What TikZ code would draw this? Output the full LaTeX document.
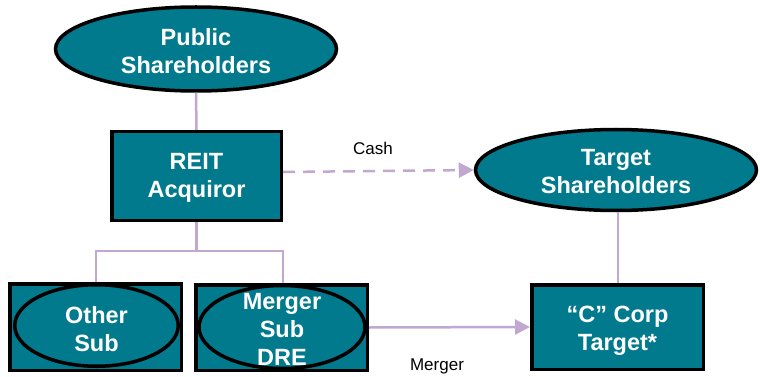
\documentclass[tikz,border=0pt]{standalone}
\usepackage{fontspec}
\setmainfont{Liberation Sans}
\usetikzlibrary{shapes.geometric,arrows.meta}
\definecolor{teal1}{HTML}{017A8D}
\definecolor{lav}{HTML}{C0A8D0}
\tikzset{
  lbl/.style={text=white,font=\fontsize{23.5}{28}\selectfont\bfseries,align=center},
  ell/.style={ellipse,draw=black,line width=3.5pt,fill=teal1,inner sep=0pt},
  box/.style={rectangle,draw=black,line width=3.5pt,fill=teal1,inner sep=0pt},
  conn/.style={draw=lav,line width=2.5pt},
  tip/.style={-{Triangle[length=15pt,width=15pt]}},
  small/.style={font=\fontsize{17}{20}\selectfont,text=black}
}
\begin{document}
\begin{tikzpicture}[x=1pt,y=-1pt]
\useasboundingbox (0,0) rectangle (760,377);
% nodes
\node[ell,minimum width=281pt,minimum height=84pt] (pub) at (196,49) {};
\node[lbl] (pubT) at (196,51) {Public\\Shareholders};
\node[box,minimum width=169.5pt,minimum height=88.5pt] (reit) at (196.5,176) {};
\node[lbl] (reitT) at (196.5,178) {REIT\\Acquiror};
\node[ell,minimum width=281pt,minimum height=81pt] (tsh) at (616,170) {};
\node[lbl] (tshT) at (616,172) {Target\\Shareholders};
\node[box,minimum width=171.5pt,minimum height=86.5pt] (other) at (95.5,327) {};
\node[ell,minimum width=163.5pt,minimum height=81.5pt] (otherE) at (96.5,325.5) {};
\node[lbl] (otherT) at (96.5,329) {Other\\Sub};
\node[box,minimum width=171.5pt,minimum height=85.5pt] (msub) at (281.5,327.5) {};
\node[ell,minimum width=166pt,minimum height=83pt] (msubE) at (282,327) {};
\node[lbl] (msubT) at (282,329) {Merger\\Sub\\DRE};
\node[box,minimum width=171.5pt,minimum height=84.5pt] (ctgt) at (617.5,327) {};
\node[lbl] (ctgtT) at (617.5,331) {“C” Corp\\Target*};
% connectors
\coordinate (j) at (196.5,251);
\draw[conn] (pub.south) -- (reit.north);
\draw[conn] (reit.south) -- (j);
\draw[conn] (other.north -| 96,0) |- (j) -| (msub.north -| 283,0);
\draw[conn] (tsh.south -| 618,0) -- (ctgt.north -| 618,0);
\draw[conn,dashed,dash pattern=on 12pt off 8pt,tip] (reit.east |- 0,172) -- (tsh.west);
\draw[conn,tip] (msub.east) -- (ctgt.west);
% labels
\node[small] (cash) at (373,148) {Cash};
\node[small] (merger) at (437,366) {Merger};
\end{tikzpicture}
\end{document}
